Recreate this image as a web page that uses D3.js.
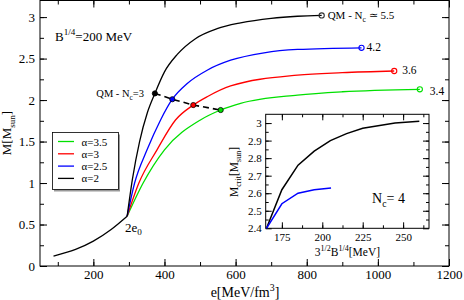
<!DOCTYPE html>
<html>
<head>
<meta charset="utf-8">
<script src="https://cdn.jsdelivr.net/npm/d3@7"></script>
<style>
body { margin: 0; background: #fff; }
text { fill: #000; }
</style>
</head>
<body>
<svg width="464" height="300" font-family="Liberation Serif"></svg>
<script>
var FONT = "Liberation Serif";

// hadronic part, common to all curves
var hadronE = [88, 150, 200, 250, 295],
    hadronM = [0.12, 0.2, 0.3, 0.44, 0.6];

// quark branches, one per alpha
var a2E  = [295, 310, 330, 352, 373, 400, 436, 487, 548, 614, 700, 774, 842],
    a2M  = [0.6, 1.05, 1.5, 1.85, 2.08, 2.34, 2.55, 2.74, 2.86, 2.93, 2.985, 3.01, 3.02];
var a25E = [295, 316, 351, 389, 422, 464, 520, 586, 680, 774, 954],
    a25M = [0.6, 1.0, 1.4, 1.76, 2.01, 2.2, 2.36, 2.48, 2.57, 2.61, 2.63];
var a3E  = [295, 328, 379, 431, 481, 520, 586, 774, 900, 1046],
    a3M  = [0.6, 1.0, 1.4, 1.76, 1.94, 2.04, 2.17, 2.30, 2.33, 2.35];
var a35E = [295, 340, 400, 501, 558, 614, 774, 900, 1118],
    a35M = [0.6, 1.0, 1.4, 1.76, 1.88, 1.96, 2.06, 2.10, 2.13];

var legendLabels = ["α=3.5", "α=3", "α=2.5", "α=2"],
    colors = ["#00e000", "#ff0000", "#0000ff", "#000000"];

// QM - Nc=3 points (black, blue, red, green)
var qmE = [373, 422, 481, 558],
    qmM = [2.08, 2.01, 1.94, 1.88];
// end points with their Nc values
var endE = [842, 954, 1046, 1118],
    endM = [3.02, 2.63, 2.35, 2.13],
    endLabels = ["5.5", "4.2", "3.6", "3.4"];

// inset: critical mass vs 3^1/2 B^1/4
var insetBlackX = [165.5, 175, 185, 195, 205, 215, 225, 245, 260],
    insetBlackM = [2.4, 2.62, 2.76, 2.84, 2.9, 2.94, 2.97, 3.0, 3.01];
var insetBlueX = [165.5, 175, 185, 195, 205.4],
    insetBlueM = [2.4, 2.54, 2.6, 2.62, 2.63];

var xTicks = [200, 400, 600, 800, 1000, 1200],
    yTicks = [0, 0.5, 1, 1.5, 2, 2.5, 3],
    insetXTicks = [175, 200, 225, 250],
    insetYTicks = [2.4, 2.5, 2.6, 2.7, 2.8, 2.9, 3];

var svg = d3.select("svg");

function zip(a, b) { return a.map(function(d, i) { return [d, b[i]]; }); }

// text with sub/superscripts; parts = [[text, "sub"|"sup"|null], ...]
function richText(g, x, y, parts, size, anchor) {
  var t = g.append("text").attr("x", x).attr("y", y)
      .attr("font-family", FONT)
      .style("font-size", size + "px")
      .attr("text-anchor", anchor || "start");
  var shift = 0;
  parts.forEach(function(p) {
    var target = p[1] == "sub" ? size * 0.3 : p[1] == "sup" ? -size * 0.45 : 0;
    var s = t.append("tspan").text(p[0]).attr("dy", target - shift);
    if (p[1]) s.style("font-size", (size * 0.7) + "px");
    shift = target;
  });
  return t;
}

// main axes
var x = d3.scaleLinear().domain([50, 1200]).range([40, 449]);
var y = d3.scaleLinear().domain([0, 3.2]).range([266, 0.5]);

var main = svg.append("g");

function addTicks(g, axis, tf, size, ticks) {
  g.call(axis.tickValues(ticks).tickSize(size).tickFormat(tf));
  g.attr("font-family", FONT);
  g.select(".domain").remove();
  g.selectAll("line").attr("stroke", "#000");
  return g;
}
var noLabel = function() { return ""; };

var minorX = d3.range(100, 1201, 100), minorY = d3.range(0.25, 3.2, 0.25);

addTicks(main.append("g").attr("transform", "translate(0,266)"), d3.axisBottom(x), noLabel, -4, minorX);
var xAxisG = addTicks(main.append("g").attr("transform", "translate(0,266)"), d3.axisBottom(x), d3.format("d"), -7, xTicks);
addTicks(main.append("g").attr("transform", "translate(0,0.5)"), d3.axisTop(x), noLabel, -4, minorX);
addTicks(main.append("g").attr("transform", "translate(0,0.5)"), d3.axisTop(x), noLabel, -7, xTicks);
addTicks(main.append("g").attr("transform", "translate(40,0)"), d3.axisLeft(y), noLabel, -4, minorY);
var yAxisG = addTicks(main.append("g").attr("transform", "translate(40,0)"), d3.axisLeft(y), d3.format(""), -7, yTicks);
addTicks(main.append("g").attr("transform", "translate(449,0)"), d3.axisRight(y), noLabel, -4, minorY);
addTicks(main.append("g").attr("transform", "translate(449,0)"), d3.axisRight(y), noLabel, -7, yTicks);

main.selectAll(".tick text")
    .attr("font-family", FONT)
    .style("font-size", "13px");
xAxisG.selectAll(".tick text").attr("dy", "0.2em").attr("y", 10);
yAxisG.selectAll(".tick text").attr("x", -5);

main.append("rect")
    .attr("x", 40).attr("y", 0.5).attr("width", 409).attr("height", 265.5)
    .attr("fill", "none").attr("stroke", "#000").attr("stroke-width", 1);

// curves
var line = d3.line()
    .curve(d3.curveMonotoneX)
    .x(function(d) { return x(d[0]); })
    .y(function(d) { return y(d[1]); });

var branches = [zip(a35E, a35M), zip(a3E, a3M), zip(a25E, a25M), zip(a2E, a2M)];

branches.forEach(function(b, i) {
  main.append("path").datum(b)
      .attr("d", line)
      .attr("fill", "none")
      .attr("stroke", colors[i])
      .attr("stroke-width", 1.3);
});

main.append("path").datum(zip(hadronE, hadronM))
    .attr("d", line)
    .attr("fill", "none")
    .attr("stroke", "#000")
    .attr("stroke-width", 1.3);

// dashed QM - Nc=3 line
main.append("path").datum(zip(qmE, qmM))
    .attr("d", d3.line().x(function(d) { return x(d[0]); }).y(function(d) { return y(d[1]); }))
    .attr("fill", "none")
    .attr("stroke", "#000")
    .attr("stroke-width", 1.6)
    .attr("stroke-dasharray", "6,4");

var qmColors = ["#000000", "#0000ff", "#ff0000", "#00e000"];
main.selectAll(".qm").data(zip(qmE, qmM)).enter().append("circle")
    .attr("cx", function(d) { return x(d[0]); })
    .attr("cy", function(d) { return y(d[1]); })
    .attr("r", 2.6)
    .attr("fill", function(d, i) { return qmColors[i]; })
    .attr("stroke", "#000")
    .attr("stroke-width", 0.8);

// end points
var endColors = ["#333333", "#0000ff", "#ff0000", "#00e000"];
main.selectAll(".end").data(zip(endE, endM)).enter().append("circle")
    .attr("cx", function(d) { return x(d[0]); })
    .attr("cy", function(d) { return y(d[1]); })
    .attr("r", 2.6)
    .attr("fill", "none")
    .attr("stroke", function(d, i) { return endColors[i]; })
    .attr("stroke-width", 1.1);

richText(main, x(endE[0]) + 6, y(endM[0]) + 3.5,
  [["QM - N"], ["c", "sub"], [" ≃ " + endLabels[0]]], 11);
[1, 2, 3].forEach(function(i) {
  main.append("text")
      .attr("x", x(endE[i]) + [5, 8, 10][i - 1])
      .attr("y", y(endM[i]) + [3.5, 2.5, 6][i - 1])
      .attr("font-family", FONT)
      .style("font-size", "11.5px")
      .text(endLabels[i]);
});

richText(main, 144, 96.7, [["QM - N"], ["c", "sub"], ["=3"]], 10.5, "end");
richText(main, 55, 41, [["B"], ["1/4", "sup"], ["=200 MeV"]], 13);
richText(main, 125, 231.5, [["2e"], ["0", "sub"]], 13);

// axis titles
richText(main, 245, 297, [["e[MeV/fm"], ["3", "sup"], ["]"]], 14, "middle");
richText(main.append("g").attr("transform", "translate(11,133) rotate(-90)"), 0, 0,
  [["M[M"], ["sun", "sub"], ["]"]], 13, "middle");

// legend
var leg = main.append("g");
leg.append("rect").attr("x", 54).attr("y", 134.5).attr("width", 66).attr("height", 57)
    .attr("fill", "#999");
leg.append("rect").attr("x", 52.5).attr("y", 132.5).attr("width", 66).attr("height", 57)
    .attr("fill", "#fff").attr("stroke", "#000").attr("stroke-width", 0.8);
legendLabels.forEach(function(l, i) {
  var by = 145.5 + i * 12.3;
  leg.append("line").attr("x1", 58).attr("x2", 74)
      .attr("y1", by - 4).attr("y2", by - 4)
      .attr("stroke", colors[i]).attr("stroke-width", 1.3);
  leg.append("text").attr("x", 81.5).attr("y", by)
      .attr("font-family", FONT)
      .style("font-size", "11px").text(l);
});

// inset
var ix = d3.scaleLinear().domain([165, 266]).range([265.7, 429]);
var iy = d3.scaleLinear().domain([2.4, 3.05]).range([228.3, 114.3]);
var inset = svg.append("g");

inset.append("rect").attr("x", 265.7).attr("y", 114.3).attr("width", 163.3).attr("height", 114)
    .attr("fill", "#fff");

var iMinorX = d3.range(175, 266, 12.5), iMinorY = d3.range(2.45, 3.05, 0.05);
addTicks(inset.append("g").attr("transform", "translate(0,228.3)"), d3.axisBottom(ix), noLabel, -3, iMinorX);
var ixAxisG = addTicks(inset.append("g").attr("transform", "translate(0,228.3)"), d3.axisBottom(ix), d3.format("d"), -6, insetXTicks);
addTicks(inset.append("g").attr("transform", "translate(0,114.3)"), d3.axisTop(ix), noLabel, -3, iMinorX);
addTicks(inset.append("g").attr("transform", "translate(0,114.3)"), d3.axisTop(ix), noLabel, -6, insetXTicks);
addTicks(inset.append("g").attr("transform", "translate(265.7,0)"), d3.axisLeft(iy), noLabel, -3, iMinorY);
var iyAxisG = addTicks(inset.append("g").attr("transform", "translate(265.7,0)"), d3.axisLeft(iy), d3.format(""), -6, insetYTicks);
addTicks(inset.append("g").attr("transform", "translate(429,0)"), d3.axisRight(iy), noLabel, -3, iMinorY);
addTicks(inset.append("g").attr("transform", "translate(429,0)"), d3.axisRight(iy), noLabel, -6, insetYTicks);

inset.selectAll(".tick text")
    .attr("font-family", FONT)
    .style("font-size", "11px");
ixAxisG.selectAll(".tick text").attr("y", 5);
iyAxisG.selectAll(".tick text").attr("x", -4);

inset.append("rect").attr("x", 265.7).attr("y", 114.3).attr("width", 163.3).attr("height", 114)
    .attr("fill", "none").attr("stroke", "#000").attr("stroke-width", 1);

var iline = d3.line()
    .x(function(d) { return ix(d[0]); })
    .y(function(d) { return iy(d[1]); });

inset.append("path").datum(zip(insetBlackX, insetBlackM))
    .attr("d", iline).attr("fill", "none").attr("stroke", "#000").attr("stroke-width", 1.5);
inset.append("path").datum(zip(insetBlueX, insetBlueM))
    .attr("d", iline).attr("fill", "none").attr("stroke", "#0000ff").attr("stroke-width", 1.5);

richText(inset, 347.4, 256, [["3"], ["1/2", "sup"], ["B"], ["1/4", "sup"], ["[MeV]"]], 11.5, "middle");
richText(inset.append("g").attr("transform", "translate(238,172) rotate(-90)"), 0, 0,
  [["M"], ["crit", "sub"], ["[M"], ["sun", "sub"], ["]"]], 11.5, "middle");
richText(inset, 372, 203, [["N"], ["c", "sub"], ["= 4"]], 14);
</script>
</body>
</html>
